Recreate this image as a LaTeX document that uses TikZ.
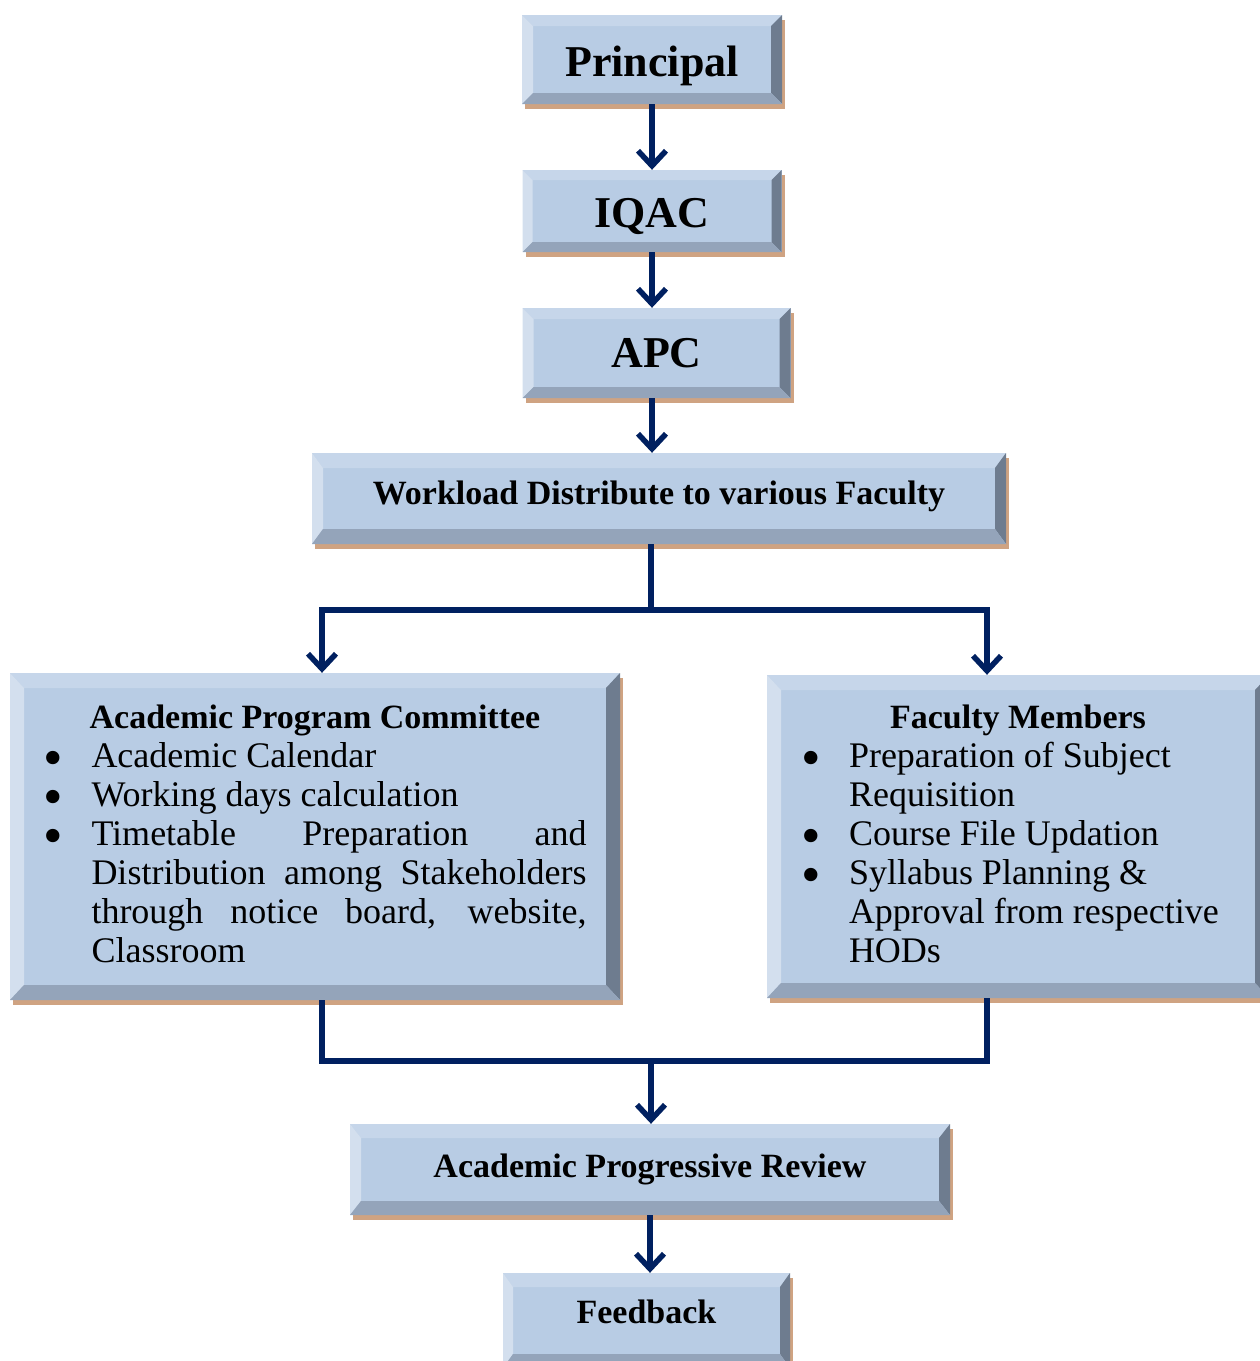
\documentclass[tikz,border=0pt]{standalone}
\usepackage{fontspec}
\setmainfont{Liberation Serif}
\usetikzlibrary{arrows.meta}

\definecolor{boxface}{HTML}{B8CCE4}
\definecolor{bevtop}{HTML}{C6D6EA}
\definecolor{bevleft}{HTML}{D3DFEE}
\definecolor{bevright}{HTML}{6E7C8F}
\definecolor{bevbottom}{HTML}{94A4BA}
\definecolor{boxshadow}{HTML}{CFA382}
\definecolor{navy}{HTML}{002060}

\def\bevx{11pt}\def\bevy{11pt}
\newcommand\bigdot{\raisebox{-9pt}[0pt][0pt]{\scalebox{1.55}{\textbullet}}}
\newenvironment{dotlist}{\begin{list}{\makebox[48pt][l]{\bigdot}}{%
  \setlength{\leftmargin}{48pt}\setlength{\labelwidth}{48pt}\setlength{\labelsep}{0pt}%
  \setlength{\itemsep}{0pt}\setlength{\topsep}{0pt}\setlength{\parsep}{0pt}%
  \setlength{\partopsep}{0pt}}}{\end{list}}

\tikzset{
  bevelsize/.code 2 args={\def\bevx{#1}\def\bevy{#2}},
  bevelbox/.style={fill=boxface, inner sep=0pt, font=\bfseries\fontsize{34}{40}\selectfont,
    preaction={fill=boxshadow, transform canvas={xshift=3pt,yshift=-5pt}},
    path picture={
      \path (path picture bounding box.north west) coordinate (pnw)
            (path picture bounding box.north east) coordinate (pne)
            (path picture bounding box.south east) coordinate (pse)
            (path picture bounding box.south west) coordinate (psw);
      \fill[bevtop] (pnw) -- (pne) -- ([xshift=-\bevx,yshift=-\bevy]pne) -- ([xshift=\bevx,yshift=-\bevy]pnw) -- cycle;
      \fill[bevleft] (pnw) -- (psw) -- ([xshift=\bevx,yshift=\bevy]psw) -- ([xshift=\bevx,yshift=-\bevy]pnw) -- cycle;
      \fill[bevright] (pne) -- (pse) -- ([xshift=-\bevx,yshift=\bevy]pse) -- ([xshift=-\bevx,yshift=-\bevy]pne) -- cycle;
      \fill[bevbottom] (psw) -- (pse) -- ([xshift=-\bevx,yshift=\bevy]pse) -- ([xshift=\bevx,yshift=\bevy]psw) -- cycle;
    }},
  bigtitle/.style={font=\bfseries\fontsize{44}{50}\selectfont},
  listbox/.style={font=\fontsize{36}{39}\selectfont, bevelsize={14pt}{15pt}},
  flow/.style={draw=navy, line width=5.5pt},
  link/.style={flow, -{Straight Barb[length=15pt,width=28pt]}}
}

\begin{document}
\begin{tikzpicture}[x=1pt, y=-1pt]
\useasboundingbox (0,0) rectangle (1260,1361);

% top chain
\node[bevelbox, bigtitle, minimum width=260pt, minimum height=89pt] (principal) at (652,59.5) {\raisebox{-6pt}[\height][\depth]{Principal}};
\node[bevelbox, bigtitle, bevelsize={10pt}{10pt}, minimum width=259pt, minimum height=82pt] (iqac) at (652,211) {\raisebox{-5pt}[\height][\depth]{IQAC}};
\node[bevelbox, bigtitle, minimum width=268pt, minimum height=90pt] (apc) at (656.5,353) {APC};
\node[bevelbox, bevelsize={11pt}{15pt}, minimum width=694pt, minimum height=91pt] (workload) at (659,498.5) {\raisebox{2pt}[\height][\depth]{Workload Distribute to various Faculty}};

% the two branches
\node[bevelbox, listbox, minimum width=610pt, minimum height=327pt] (committee) at (315,836.5) {%
\begin{minipage}{543pt}
{\centering\bfseries\fontsize{34}{39}\selectfont Academic Program Committee\par}
\begin{dotlist}
\item Academic Calendar
\item Working days calculation
\item Timetable Preparation and\linebreak Distribution among Stakeholders\linebreak through notice board, website,\linebreak Classroom
\end{dotlist}
\vspace{6pt}
\end{minipage}};
\node[bevelbox, listbox, minimum width=502pt, minimum height=323pt] (faculty) at (1018,836.5) {%
\begin{minipage}{434pt}
{\centering\bfseries\fontsize{34}{39}\selectfont Faculty Members\par}
\raggedright
\begin{dotlist}
\item Preparation of Subject\\ Requisition
\item Course File Updation
\item Syllabus Planning \&\\ Approval from respective\\ HODs
\end{dotlist}
\vspace{6pt}
\end{minipage}};

% bottom
\node[bevelbox, bevelsize={11pt}{14pt}, minimum width=600pt, minimum height=91pt] (review) at (650,1169.5) {Academic Progressive Review};
\node[bevelbox, bevelsize={10pt}{14pt}, minimum width=287pt, minimum height=95pt] (feedback) at (646.5,1320.5) {\raisebox{9pt}[\height][\depth]{Feedback}};

\coordinate (split) at (651,610);
\coordinate (merge) at (651,1061);

\draw[link] (principal.south) -- (principal.south |- iqac.north);
\draw[link] (iqac.south -| principal) -- (apc.north -| principal);
\draw[link] (apc.south -| principal) -- (workload.north -| principal);
\draw[flow] (workload.south -| split) -- (split);
\draw[link] (split) -| ([xshift=7pt]committee.north);
\draw[link] (split) -| ([xshift=-31pt]faculty.north);
\draw[flow] ([xshift=7pt]committee.south) |- (merge) -| ([xshift=-31pt]faculty.south);
\draw[link] (merge) -- (review.north -| merge);
\draw[link] (review.south) -- (review.south |- feedback.north);

\end{tikzpicture}
\end{document}
